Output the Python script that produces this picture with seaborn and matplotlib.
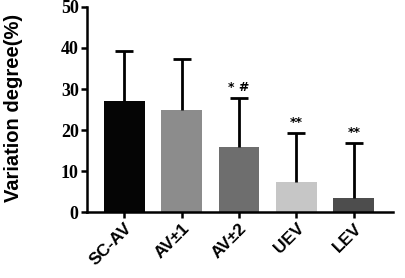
#!/usr/bin/env python3
# -*- coding: utf-8 -*-

import numpy as np
import pandas as pd
import matplotlib
matplotlib.use("Agg")
import matplotlib.pyplot as plt
import seaborn as sns

# values
groups = ["SC-AV", "AV±1", "AV±2", "UEV", "LEV"]
means = [27.0, 24.9, 15.9, 7.4, 3.4]
sds = [12.3, 12.4, 11.9, 11.9, 13.4]
marks = ["", "", "* #", "**", "**"]
bar_colors = ["#050505", "#8c8c8c", "#6e6e6e", "#c6c6c6", "#4d4d4d"]

sns.set_style("ticks")
plt.rcParams.update({
    "text.color": "black",
    "axes.labelcolor": "black",
    "xtick.color": "black",
    "ytick.color": "black",
    "axes.edgecolor": "black",
})

df = pd.DataFrame({"group": groups, "mean": means, "sd": sds})

fig = plt.figure(figsize=(4.05, 2.78), dpi=100)
ax = fig.add_axes([0.215, 0.237, 0.755, 0.738])

sns.barplot(data=df, x="group", y="mean", hue="group", palette=bar_colors,
            width=0.71, legend=False, ax=ax, saturation=1, edgecolor="none")

# one-sided (upward) error bars, cap only at the top
xpos = np.arange(len(groups))
eb = ax.errorbar(xpos, df["mean"], yerr=[np.zeros(len(groups)), df["sd"]],
                 fmt="none", ecolor="black", elinewidth=2.0, capsize=6.5, capthick=2.0)
eb[1][0].set_visible(False)

for x, m, s, t in zip(xpos, means, sds, marks):
    if t:
        ax.text(x, m + s + 1.0, t, ha="center", va="bottom", fontsize=9,
                fontweight="bold", family="DejaVu Sans")

ax.set_xlim(-0.65, 4.68)
ax.set_ylim(0, 50)
ax.set_yticks([0, 10, 20, 30, 40, 50])
ax.set_xlabel("")
ax.set_ylabel("Variation degree(%)", fontsize=14.5, fontweight="bold",
              family="Liberation Sans")
ax.yaxis.set_label_coords(-0.21, 0.51)

for lab in ax.get_yticklabels():
    lab.set_family("Liberation Serif")
    lab.set_fontweight("bold")
    lab.set_fontsize(13)
for lab in ax.get_xticklabels():
    lab.set_family("Liberation Sans")
    lab.set_fontweight("bold")
    lab.set_fontsize(12.5)
    lab.set_rotation(45)
    lab.set_ha("right")
    lab.set_rotation_mode("anchor")

sns.despine(ax=ax)
for sp in ["left", "bottom"]:
    ax.spines[sp].set_linewidth(1.8)
ax.tick_params(axis="both", width=1.8, length=4, pad=2)

fig.savefig("out.png", dpi=100)
